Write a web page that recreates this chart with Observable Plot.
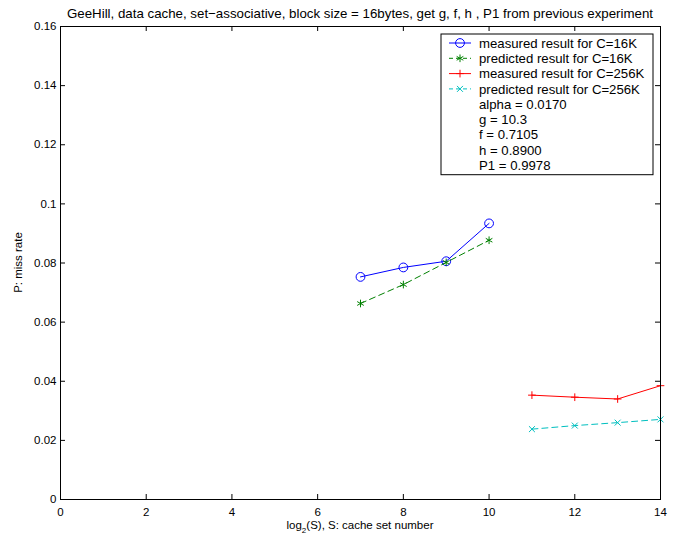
<!DOCTYPE html>
<html><head><meta charset="utf-8">
<script src="https://cdn.jsdelivr.net/npm/d3@7"></script>
<script src="https://cdn.jsdelivr.net/npm/@observablehq/plot@0.6"></script>
<style>body{margin:0;background:#fff} svg{display:block}</style>
</head><body><div id="chart"></div>
<script>
// ---- data ----
const log2S_16K = [7, 8, 9, 10];
const measured16K = [0.0753, 0.0785, 0.0806, 0.0934];
const predicted16K = [0.0663, 0.0727, 0.0802, 0.0877];
const log2S_256K = [11, 12, 13, 14];
const measured256K = [0.0353, 0.0346, 0.0340, 0.0385];
const predicted256K = [0.0238, 0.0250, 0.0260, 0.0271];
const xTicks = [0, 2, 4, 6, 8, 10, 12, 14];
const yTicks = [0, 0.02, 0.04, 0.06, 0.08, 0.1, 0.12, 0.14, 0.16];
const yTickLabels = ["0", "0.02", "0.04", "0.06", "0.08", "0.1", "0.12", "0.14", "0.16"];
const seriesLabels = ["measured result for C=16K", "predicted result for C=16K", "measured result for C=256K", "predicted result for C=256K"];
const paramLines = ["alpha = 0.0170", "g = 10.3", "f = 0.7105", "h = 0.8900", "P1 = 0.9978"];
const titleText = "GeeHill, data cache, set\u2212associative, block size = 16bytes, get g, f, h , P1 from previous experiment";
const yLabel = "P: miss rate";

// ---- styles ----
const styles = [
  {color: "#0000ff", dash: null, symbol: "circle", r: 4.4},
  {color: "#008000", dash: "6,4", symbol: "asterisk", r: 3.6},
  {color: "#ff0000", dash: null, symbol: "plus", r: 2.6},
  {color: "#00bfbf", dash: "6,4", symbol: "times", r: 2.8}
];
const symbolTypes = {circle: d3.symbolCircle, asterisk: d3.symbolAsterisk, plus: d3.symbolPlus, times: d3.symbolTimes};
const seriesX = [log2S_16K, log2S_16K, log2S_256K, log2S_256K];
const seriesY = [measured16K, predicted16K, measured256K, predicted256K];
const series = seriesLabels.map((name, i) => ({
  name, ...styles[i],
  data: seriesX[i].map((x, j) => ({x, y: seriesY[i][j]}))
}));

const W = 678, H = 538, mL = 60, mR = 18, mT = 26, mB = 39;
const frameW = W - mL - mR, frameH = H - mT - mB, TL = 5;
const FONT = "'Liberation Sans', Arial, sans-serif";

const marks = [
  Plot.tickX(xTicks, {x: d => d, insetTop: frameH - TL, stroke: "black"}),
  Plot.tickX(xTicks, {x: d => d, insetBottom: frameH - TL, stroke: "black"}),
  Plot.tickY(yTicks, {y: d => d, insetRight: frameW - TL, stroke: "black"}),
  Plot.tickY(yTicks, {y: d => d, insetLeft: frameW - TL, stroke: "black"}),
  Plot.axisX({ticks: xTicks, tickSize: 0, tickPadding: 8, label: null, fontSize: 11.5, fill: "black"}),
  Plot.axisY({ticks: yTicks, tickSize: 0, tickPadding: 4, label: null, fontSize: 11.5, fill: "black",
    tickFormat: d => yTickLabels[yTicks.indexOf(d)]})
];
for (const s of series) {
  marks.push(Plot.line(s.data, {x: "x", y: "y", stroke: s.color, strokeWidth: 1, strokeDasharray: s.dash}));
  marks.push(Plot.dot(s.data, {x: "x", y: "y", symbol: () => s.symbol, r: s.r, stroke: s.color, fill: "none", strokeWidth: 1}));
}
marks.push(Plot.frame({stroke: "black", strokeWidth: 1}));

const chart = Plot.plot({
  width: W, height: H,
  marginLeft: mL, marginRight: mR, marginTop: mT, marginBottom: mB,
  style: {fontFamily: FONT, fontSize: "11.5px", background: "white", color: "black"},
  x: {domain: [0, 14], axis: null},
  y: {domain: [0, 0.16], axis: null},
  symbol: {type: "identity"},
  marks
});
document.getElementById("chart").appendChild(chart);

const svg = d3.select(chart);
const xs = chart.scale("x"), ys = chart.scale("y");
const cx = (xs.range[0] + xs.range[1]) / 2;
const cy = (ys.range[0] + ys.range[1]) / 2;

// title
svg.append("text").attr("x", cx).attr("y", mT - 8).attr("text-anchor", "middle")
  .attr("font-size", 13.3).attr("fill", "black").text(titleText);

// x label with subscript (centred by measuring)
const xl = svg.append("text").attr("x", cx).attr("y", H - 9).attr("text-anchor", "start")
  .attr("font-size", 11.5).attr("fill", "black");
xl.append("tspan").text("log");
xl.append("tspan").attr("font-size", 8).attr("dy", 4).text("2");
xl.append("tspan").attr("dy", -4).text("(S), S: cache set number");
const xlW = xl.node().getComputedTextLength();
xl.attr("x", cx - xlW / 2);

// y label
svg.append("text").attr("transform", `translate(${mL - 38},${cy}) rotate(-90)`)
  .attr("text-anchor", "middle").attr("font-size", 11.5).attr("fill", "black").text(yLabel);

// legend
const lgRight = xs.range[1] - 7, lgTop = mT + 8, lgW = 212, rowH = 15.3;
const rows = series.length + paramLines.length;
const lg = svg.append("g").attr("text-anchor", "start");
lg.append("rect").attr("x", lgRight - lgW).attr("y", lgTop).attr("width", lgW)
  .attr("height", rows * rowH + 3).attr("fill", "white").attr("stroke", "black");
const lx0 = lgRight - lgW + 8, lx1 = lx0 + 22, tx = lx0 + 30;
series.forEach((s, i) => {
  const y = lgTop + 9 + i * rowH;
  lg.append("line").attr("x1", lx0).attr("x2", lx1).attr("y1", y).attr("y2", y)
    .attr("stroke", s.color).attr("stroke-dasharray", s.dash ? "4,3" : null);
  lg.append("path").attr("transform", `translate(${(lx0 + lx1) / 2},${y})`)
    .attr("d", d3.symbol().type(symbolTypes[s.symbol]).size(Math.PI * s.r * s.r)())
    .attr("fill", "none").attr("stroke", s.color);
  lg.append("text").attr("x", tx).attr("y", y).attr("dy", "0.35em").attr("font-size", 13.2)
    .attr("text-anchor", "start").attr("fill", "black").text(s.name);
});
paramLines.forEach((t, k) => {
  const y = lgTop + 9 + (series.length + k) * rowH;
  lg.append("text").attr("x", tx).attr("y", y).attr("dy", "0.35em").attr("font-size", 13.2)
    .attr("text-anchor", "start").attr("fill", "black").text(t);
});
</script>
</body></html>
